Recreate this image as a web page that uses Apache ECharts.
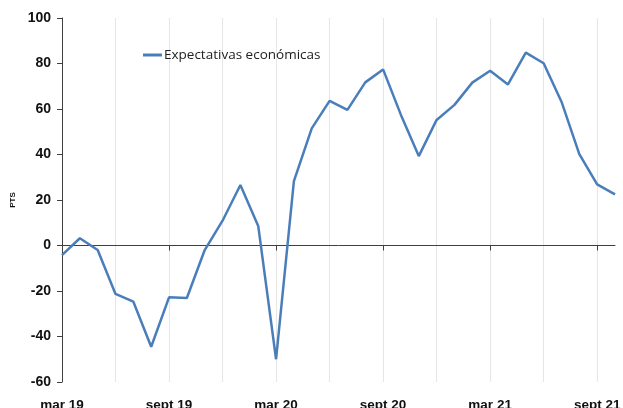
<!DOCTYPE html>
<html>
<head>
<meta charset="utf-8">
<script src="https://cdn.jsdelivr.net/npm/echarts@6/dist/echarts.min.js"></script>
<style>
  html, body { margin: 0; padding: 0; background: #fff; }
  #chart { width: 623px; height: 408px; }
</style>
</head>
<body>
<div id="chart"></div>
<script>
// monthly, mar 19 .. oct 21
const months = [
  'mar 19', 'abr 19', 'may 19', 'jun 19', 'jul 19', 'ago 19', 'sept 19', 'oct 19', 'nov 19', 'dic 19',
  'ene 20', 'feb 20', 'mar 20', 'abr 20', 'may 20', 'jun 20', 'jul 20', 'ago 20', 'sept 20', 'oct 20',
  'nov 20', 'dic 20', 'ene 21', 'feb 21', 'mar 21', 'abr 21', 'may 21', 'jun 21', 'jul 21', 'ago 21',
  'sept 21', 'oct 21'
];
const expectativas = [
  -4.2, 3.2, -2, -21.3, -24.7, -44.5, -22.8, -23.1, -2, 10.9,
  26.6, 8.6, -50, 28.3, 51.5, 63.6, 59.6, 71.7, 77.4, 57.4,
  39.3, 55.2, 61.8, 71.6, 76.8, 70.8, 84.8, 80.1, 63.2, 40.2,
  26.9, 22.5
];
const seriesName = 'Expectativas económicas';

const chart = echarts.init(document.getElementById('chart'), undefined, { renderer: 'canvas' });
const font = 'Liberation Sans, Arial, sans-serif';

chart.setOption({
  animation: false,
  textStyle: { fontFamily: font },
  grid: { left: 62, right: 8, top: 18, bottom: 26, containLabel: false, outerBoundsMode: 'none' },
  legend: {
    data: [seriesName],
    left: 138,
    top: 43,
    itemWidth: 19,
    itemHeight: 3,
    itemGap: 4,
    icon: 'rect',
    textStyle: { fontFamily: 'Open Sans, sans-serif', fontSize: 13.5, color: '#222', padding: [0, 0, 0, -3] }
  },
  xAxis: [
    {
      // bottom labels + vertical grid lines
      type: 'category',
      data: months,
      boundaryGap: false,
      axisLine: { show: false, onZero: false },
      axisTick: { show: false },
      axisLabel: {
        interval: 5,
        margin: 16,
        fontSize: 13.5,
        fontWeight: 'bold',
        color: '#111'
      },
      splitLine: { show: true, interval: 2, lineStyle: { color: '#e6e6e6', width: 1 } }
    },
    {
      // zero line with ticks
      type: 'category',
      data: months,
      boundaryGap: false,
      position: 'bottom',
      axisLine: { show: true, onZero: true, lineStyle: { color: '#404040', width: 1 } },
      axisTick: { show: true, interval: 5, length: 5, inside: false, lineStyle: { color: '#404040' } },
      axisLabel: { show: false },
      splitLine: { show: false }
    }
  ],
  yAxis: {
    type: 'value',
    min: -60,
    max: 100,
    interval: 20,
    name: 'PTS',
    nameLocation: 'middle',
    nameGap: 43,
    nameRotate: 90,
    nameTextStyle: { fontSize: 8, fontWeight: 'bold', color: '#111' },
    axisLine: { show: true, lineStyle: { color: '#404040', width: 1 } },
    axisTick: { show: true, length: 5, lineStyle: { color: '#404040' } },
    axisLabel: { fontSize: 14, fontWeight: 'bold', color: '#111', margin: 11 },
    splitLine: { show: false }
  },
  series: [
    {
      name: seriesName,
      type: 'line',
      xAxisIndex: 0,
      data: expectativas,
      showSymbol: false,
      symbol: 'none',
      lineStyle: { color: '#4a7ebb', width: 2.5 },
      itemStyle: { color: '#4a7ebb' }
    }
  ]
});
</script>
</body>
</html>
